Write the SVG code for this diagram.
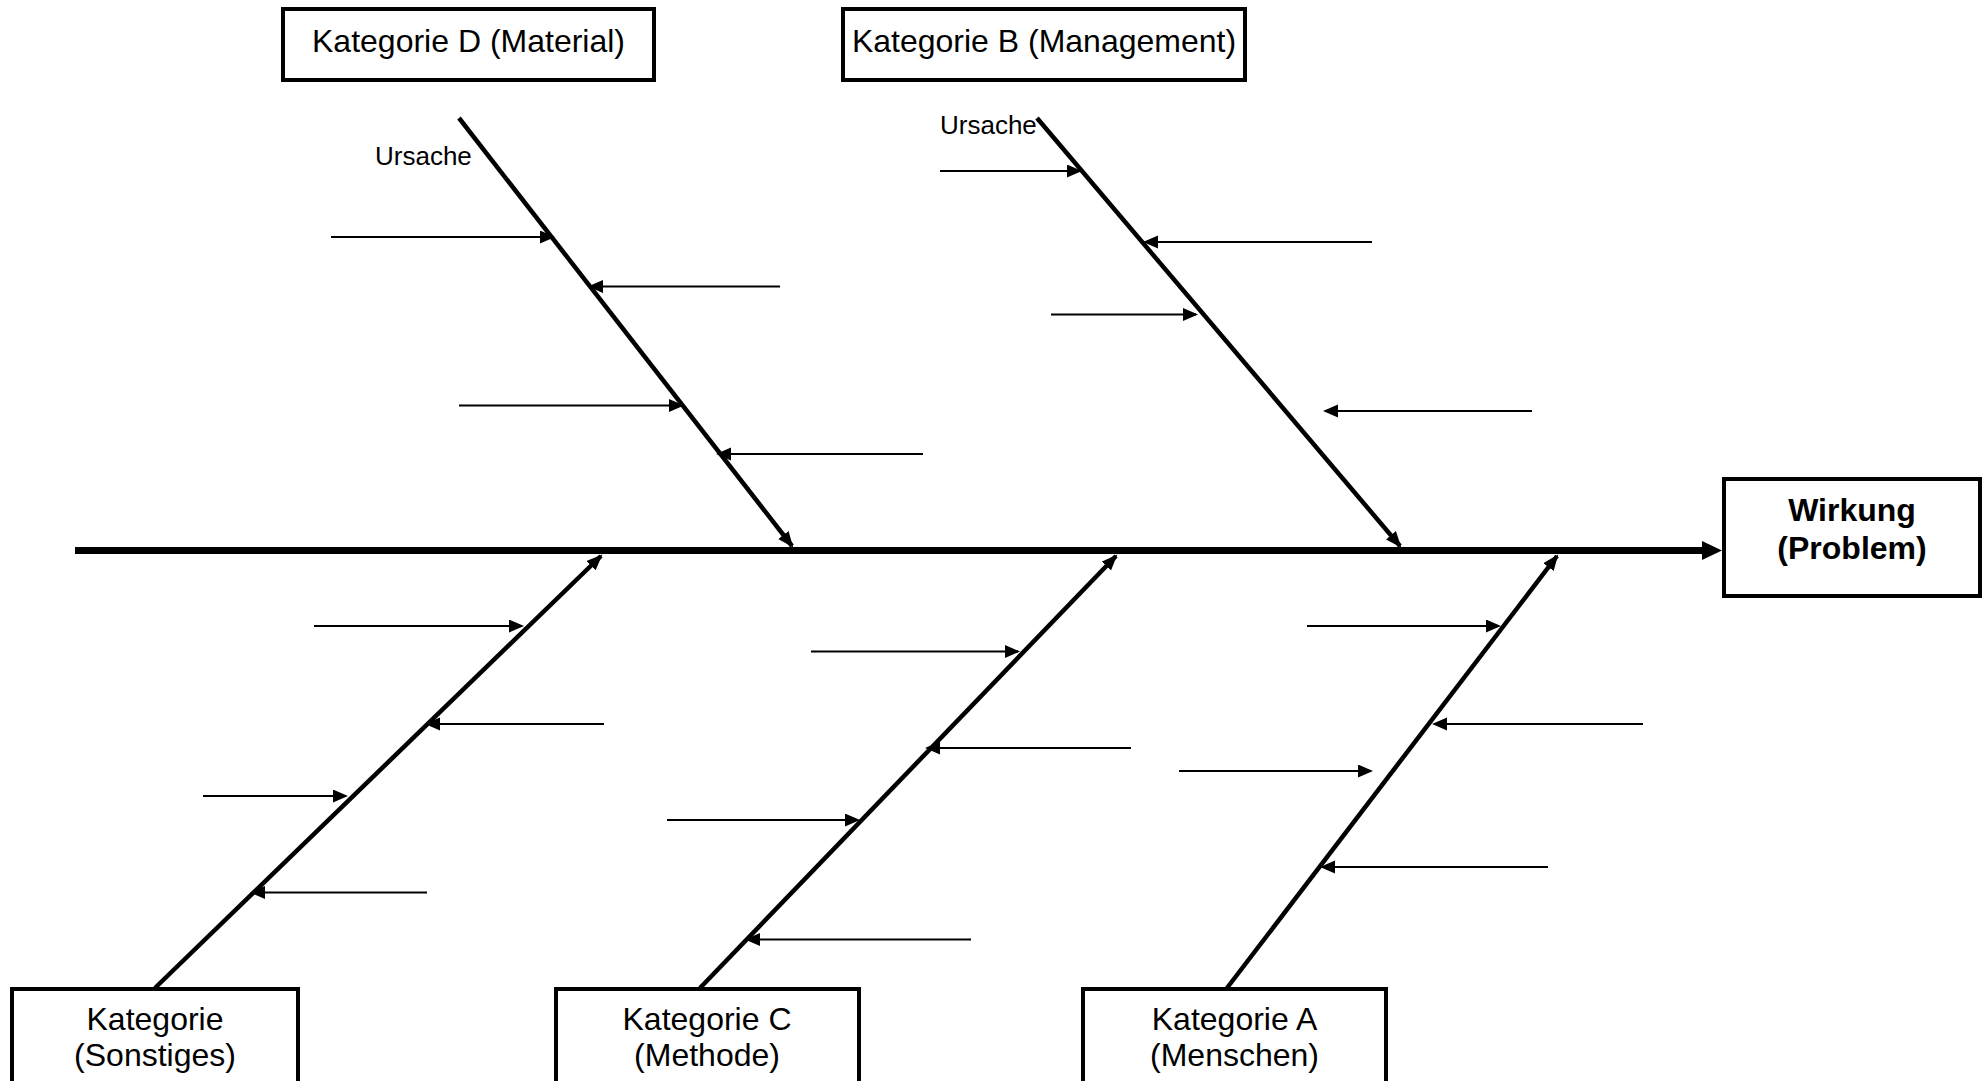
<svg xmlns="http://www.w3.org/2000/svg" width="1988" height="1081" viewBox="0 0 1988 1081">
  <style>
    .box { fill: #fff; stroke: #000; stroke-width: 4; }
    .lbl { font-family: "Liberation Sans", Arial, sans-serif; font-size: 32px; fill: #000; text-anchor: middle; }
    .bold { font-weight: bold; }
    .small { font-family: "Liberation Sans", Arial, sans-serif; font-size: 26px; fill: #000; }
    .spine { stroke: #000; stroke-width: 7; fill: none; }
    .bone { stroke: #000; stroke-width: 4.5; fill: none; marker-end: url(#boneHead); }
    .cause { stroke: #000; stroke-width: 2; fill: none; marker-end: url(#causeHead); }
  </style>
  <defs>
    <marker id="boneHead" markerUnits="userSpaceOnUse" markerWidth="18" markerHeight="14" refX="14" refY="6.5" orient="auto">
      <path d="M0,0 L16,6.5 L0,13 Z" fill="#000"/>
    </marker>
    <marker id="causeHead" markerUnits="userSpaceOnUse" markerWidth="16" markerHeight="14" refX="13" refY="6.5" orient="auto">
      <path d="M0,0 L15,6.5 L0,13 Z" fill="#000"/>
    </marker>
  </defs>
  <rect width="1988" height="1081" fill="#fff"/>

  <g id="connectors">
    <!-- main spine with its head -->
    <line class="spine" x1="75" y1="550.5" x2="1704" y2="550.5"/>
    <polygon points="1702,541 1722,550.5 1702,560" fill="#000"/>

    <!-- category bones -->
    <line class="bone" x1="459" y1="118" x2="792" y2="546"/>
    <line class="bone" x1="1037" y1="118" x2="1400" y2="546"/>
    <line class="bone" x1="155" y1="988" x2="601" y2="556"/>
    <line class="bone" x1="700" y1="988" x2="1116" y2="556"/>
    <line class="bone" x1="1227" y1="988" x2="1557" y2="556"/>

    <!-- cause arrows, Material -->
    <line class="cause" x1="331" y1="237" x2="553" y2="237"/>
    <line class="cause" x1="780" y1="286.5" x2="590" y2="286.5"/>
    <line class="cause" x1="459" y1="405.5" x2="682" y2="405.5"/>
    <line class="cause" x1="923" y1="454" x2="718" y2="454"/>

    <!-- cause arrows, Management -->
    <line class="cause" x1="940" y1="171" x2="1080" y2="171"/>
    <line class="cause" x1="1372" y1="242" x2="1145" y2="242"/>
    <line class="cause" x1="1051" y1="314.5" x2="1196" y2="314.5"/>
    <line class="cause" x1="1532" y1="411" x2="1325" y2="411"/>

    <!-- cause arrows, Sonstiges -->
    <line class="cause" x1="314" y1="626" x2="522" y2="626"/>
    <line class="cause" x1="604" y1="724" x2="427" y2="724"/>
    <line class="cause" x1="203" y1="796" x2="346" y2="796"/>
    <line class="cause" x1="427" y1="892.5" x2="252" y2="892.5"/>

    <!-- cause arrows, Methode -->
    <line class="cause" x1="811" y1="651.5" x2="1018" y2="651.5"/>
    <line class="cause" x1="1131" y1="748" x2="927" y2="748"/>
    <line class="cause" x1="667" y1="820" x2="858" y2="820"/>
    <line class="cause" x1="971" y1="939.5" x2="747" y2="939.5"/>

    <!-- cause arrows, Menschen -->
    <line class="cause" x1="1307" y1="626" x2="1499" y2="626"/>
    <line class="cause" x1="1643" y1="724" x2="1434" y2="724"/>
    <line class="cause" x1="1179" y1="771" x2="1371" y2="771"/>
    <line class="cause" x1="1548" y1="867" x2="1322" y2="867"/>
  </g>

  <g id="cause-labels">
    <text class="small" x="375" y="165">Ursache</text>
    <text class="small" x="940" y="134">Ursache</text>
  </g>

  <g id="node-material">
    <rect class="box" x="283" y="9" width="371" height="71"/>
    <text class="lbl" x="468.5" y="52">Kategorie D (Material)</text>
  </g>
  <g id="node-management">
    <rect class="box" x="843" y="9" width="402" height="71"/>
    <text class="lbl" x="1044" y="52">Kategorie B (Management)</text>
  </g>
  <g id="node-effect">
    <rect class="box" x="1724" y="479" width="256" height="117"/>
    <text class="lbl bold" x="1852" y="521">Wirkung</text>
    <text class="lbl bold" x="1852" y="559">(Problem)</text>
  </g>
  <g id="node-sonstiges">
    <rect class="box" x="12" y="989" width="286" height="110"/>
    <text class="lbl" x="155" y="1030">Kategorie</text>
    <text class="lbl" x="155" y="1066">(Sonstiges)</text>
  </g>
  <g id="node-methode">
    <rect class="box" x="556" y="989" width="303" height="110"/>
    <text class="lbl" x="707" y="1030">Kategorie C</text>
    <text class="lbl" x="707" y="1066">(Methode)</text>
  </g>
  <g id="node-menschen">
    <rect class="box" x="1083" y="989" width="303" height="110"/>
    <text class="lbl" x="1234.5" y="1030">Kategorie A</text>
    <text class="lbl" x="1234.5" y="1066">(Menschen)</text>
  </g>
</svg>
